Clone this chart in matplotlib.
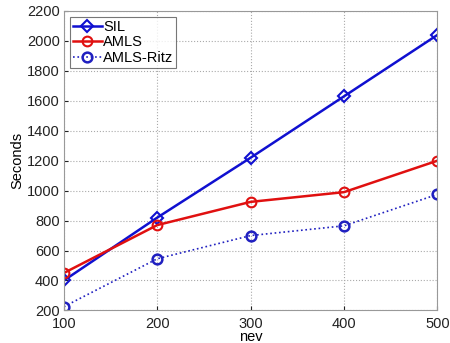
import numpy as np
import matplotlib
matplotlib.use("Agg")
import matplotlib.pyplot as plt

plt.rcParams['font.family'] = ['Liberation Sans', 'DejaVu Sans']

nev = [100, 200, 300, 400, 500]
sil = [400, 820, 1220, 1630, 2040]
amls = [450, 770, 925, 990, 1200]
amls_ritz = [225, 545, 700, 765, 975]

fig = plt.figure(figsize=(4.5, 3.43), dpi=100)
ax = fig.add_axes([0.142, 0.095, 0.83, 0.873])

ax.plot(nev, sil, color="#1010d0", lw=1.8, marker="D", ms=6, mfc="none", mew=1.5, label="SIL")
ax.plot(nev, amls, color="#e01010", lw=1.8, marker="o", ms=7, mfc="none", mew=1.5, label="AMLS")
ax.plot(nev, amls_ritz, color="#2020c0", lw=1.2, ls=":", marker="o", ms=7, mfc="none", mew=1.8, label="AMLS-Ritz")

ax.set_xlim(100, 500)
ax.set_ylim(200, 2200)
ax.set_xticks(nev)
ax.set_yticks(np.arange(200, 2201, 200))
ax.grid(True, ls=":", color="#aaaaaa", lw=0.8)
ax.tick_params(labelsize=10.5, direction="in", length=3, colors="#222222")
ax.tick_params(axis="y", pad=3)
ax.tick_params(axis="x", pad=5)
for s in ax.spines.values():
    s.set_color("#999999")
ax.set_xlabel("nev", fontsize=10.5, labelpad=-1)
ax.set_ylabel("Seconds", fontsize=10.5, labelpad=2)

leg = ax.legend(loc="upper left", fontsize=10.5, fancybox=False, handlelength=2.0,
                handletextpad=0.1, borderpad=0.2, labelspacing=0.1, borderaxespad=0.4)
leg.get_frame().set_edgecolor("#555555")
leg.get_frame().set_linewidth(0.8)

fig.savefig("out.png", dpi=100)
